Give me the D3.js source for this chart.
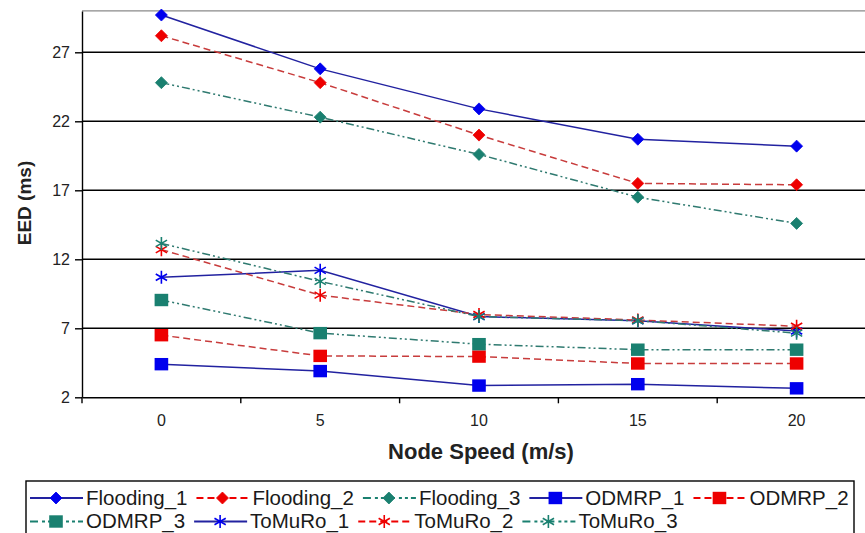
<!DOCTYPE html>
<html>
<head>
<meta charset="utf-8">
<script src="https://cdn.jsdelivr.net/npm/d3@7"></script>
<style>
  html, body { margin: 0; padding: 0; background: #fff; }
  svg { display: block; font-family: Arial, "Liberation Sans", sans-serif; }
</style>
</head>
<body>
<svg id="chart" width="865" height="533"></svg>
<script>
// Node speed categories (m/s)
const speeds = ["0", "5", "10", "15", "20"];
const yTicks = [2, 7, 12, 17, 22, 27];

// End-to-end delay (ms) per protocol run
const flooding1 = [29.7, 25.8, 22.9, 20.7, 20.2];
const flooding2 = [28.2, 24.8, 21.0, 17.5, 17.4];
const flooding3 = [24.8, 22.3, 19.6, 16.5, 14.6];
const odmrp1 = [4.4, 3.9, 2.85, 2.95, 2.65];
const odmrp2 = [6.5, 5.0, 4.95, 4.45, 4.45];
const odmrp3 = [9.05, 6.65, 5.85, 5.45, 5.45];
const tomuro1 = [10.7, 11.2, 7.85, 7.55, 6.8];
const tomuro2 = [12.7, 9.4, 8.0, 7.6, 7.15];
const tomuro3 = [13.15, 10.4, 7.85, 7.55, 6.65];

const seriesNames = ["Flooding_1", "Flooding_2", "Flooding_3", "ODMRP_1", "ODMRP_2",
                     "ODMRP_3", "ToMuRo_1", "ToMuRo_2", "ToMuRo_3"];
const seriesValues = [flooding1, flooding2, flooding3, odmrp1, odmrp2,
                      odmrp3, tomuro1, tomuro2, tomuro3];

// Styling per series
const markerColor = ["#0000ee", "#ee0000", "#1a8070"];
const lineColor = ["#2222a0", "#c83c3c", "#2f7a70"];
const dashes = [null, "7,4", "8,3,2,3,2,3"];
const shapes = ["diamond", "diamond", "diamond", "square", "square", "square",
                "star", "star", "star"];

const svg = d3.select("#chart");
const plotLeft = 82, plotRight = 876, plotTop = 10.9, plotBottom = 397.3;

const x = d3.scaleBand().domain(speeds).range([plotLeft, plotRight]).paddingInner(0).paddingOuter(0);
const y = d3.scaleLinear().domain([2, 30]).range([plotBottom, plotTop]);

// horizontal grid lines
svg.append("g")
  .selectAll("line")
  .data(yTicks.filter(d => d > 2))
  .join("line")
  .attr("x1", plotLeft).attr("x2", plotRight)
  .attr("y1", d => y(d)).attr("y2", d => y(d))
  .attr("stroke", "#000").attr("stroke-width", 1.4);

// top border
svg.append("line")
  .attr("x1", plotLeft).attr("x2", plotRight)
  .attr("y1", y(30)).attr("y2", y(30))
  .attr("stroke", "#8a8a8a").attr("stroke-width", 1.4);

// y axis
const yAxis = svg.append("g")
  .attr("transform", `translate(${plotLeft},0)`)
  .call(d3.axisLeft(y).tickValues(yTicks).tickSize(7).tickPadding(5).tickSizeOuter(0));
yAxis.select(".domain").attr("stroke", "#000").attr("stroke-width", 1.4);
yAxis.selectAll(".tick line").attr("stroke", "#000").attr("stroke-width", 1.4);
yAxis.selectAll(".tick text")
  .attr("font-size", 16).attr("fill", "#222")
  .attr("font-family", "Arial, 'Liberation Sans', sans-serif");

// x axis: labels centred in bands, tick marks at band boundaries
const xAxis = svg.append("g")
  .attr("transform", `translate(0,${plotBottom})`)
  .call(d3.axisBottom(x).tickSize(0).tickPadding(17).tickSizeOuter(0));
xAxis.select(".domain").attr("stroke", "#000").attr("stroke-width", 1.4);
xAxis.selectAll(".tick text")
  .attr("font-size", 16).attr("fill", "#222")
  .attr("font-family", "Arial, 'Liberation Sans', sans-serif");
xAxis.append("g")
  .selectAll("line")
  .data(speeds)
  .join("line")
  .attr("x1", d => x(d)).attr("x2", d => x(d))
  .attr("y1", 0).attr("y2", 6)
  .attr("stroke", "#000").attr("stroke-width", 1.4);

// axis titles
svg.append("text")
  .attr("x", 481).attr("y", 459)
  .attr("text-anchor", "middle")
  .attr("font-size", 22).attr("font-weight", "bold").attr("fill", "#222")
  .text("Node Speed (m/s)");

svg.append("text")
  .attr("transform", `translate(31,203) rotate(-90)`)
  .attr("text-anchor", "middle")
  .attr("font-size", 19).attr("font-weight", "bold").attr("fill", "#222")
  .text("EED (ms)");

// marker drawing
function drawMarker(g, shape, color, size) {
  if (shape === "diamond") {
    const s = size * 0.6;
    g.append("path")
      .attr("d", `M0,${-s}L${s},0L0,${s}L${-s},0Z`)
      .attr("fill", color).attr("stroke", color).attr("stroke-width", 0.8);
  } else if (shape === "square") {
    const w = size * 0.68, h = size * 0.62;
    g.append("rect")
      .attr("x", -w).attr("y", -h).attr("width", 2 * w).attr("height", 2 * h)
      .attr("fill", color);
  } else {
    const r = size * 0.65;
    const a = Math.PI / 6;
    const p = `M0,${-r}L0,${r}` +
      `M${-r * Math.cos(a)},${-r * Math.sin(a)}L${r * Math.cos(a)},${r * Math.sin(a)}` +
      `M${-r * Math.cos(a)},${r * Math.sin(a)}L${r * Math.cos(a)},${-r * Math.sin(a)}`;
    g.append("path").attr("d", p).attr("fill", "none")
      .attr("stroke", color).attr("stroke-width", 1.6);
  }
}

const line = d3.line()
  .x((d, i) => x(speeds[i]) + x.bandwidth() / 2)
  .y(d => y(d));

const plot = svg.append("g");
seriesValues.forEach((vals, k) => {
  const c = k % 3;
  plot.append("path")
    .datum(vals)
    .attr("d", line)
    .attr("fill", "none")
    .attr("stroke", lineColor[c])
    .attr("stroke-width", 1.5)
    .attr("stroke-dasharray", dashes[c]);
});
seriesValues.forEach((vals, k) => {
  const c = k % 3;
  vals.forEach((v, i) => {
    const g = plot.append("g")
      .attr("transform", `translate(${x(speeds[i]) + x.bandwidth() / 2},${y(v)})`);
    drawMarker(g, shapes[k], markerColor[c], 10);
  });
});

// legend
const legend = svg.append("g");
legend.append("rect")
  .attr("x", 26).attr("y", 481).attr("width", 828).attr("height", 60)
  .attr("fill", "#fff").attr("stroke", "#000").attr("stroke-width", 1.4);

const rows = [[0, 1, 2, 3, 4], [5, 6, 7, 8]];
rows.forEach((row, r) => {
  let cx = 30;
  const cy = 498 + r * 23.5;
  row.forEach(k => {
    const c = k % 3;
    const item = legend.append("g").attr("transform", `translate(${cx},${cy})`);
    item.append("line")
      .attr("x1", 0).attr("x2", 53).attr("y1", 0).attr("y2", 0)
      .attr("stroke", k % 3 === 0 ? lineColor[c] : markerColor[c])
      .attr("stroke-width", 2)
      .attr("stroke-dasharray", c === 1 ? "7,4" : (c === 2 ? "8,4,3,3,3,3" : null));
    const m = item.append("g").attr("transform", "translate(26,0)");
    drawMarker(m, shapes[k], markerColor[c], 10);
    const t = item.append("text")
      .attr("x", 56).attr("y", 6.5)
      .attr("font-size", 20.5).attr("fill", "#1a1a1a")
      .text(seriesNames[k]);
    cx += 56 + t.node().getComputedTextLength() + 9;
  });
});
</script>
</body>
</html>
